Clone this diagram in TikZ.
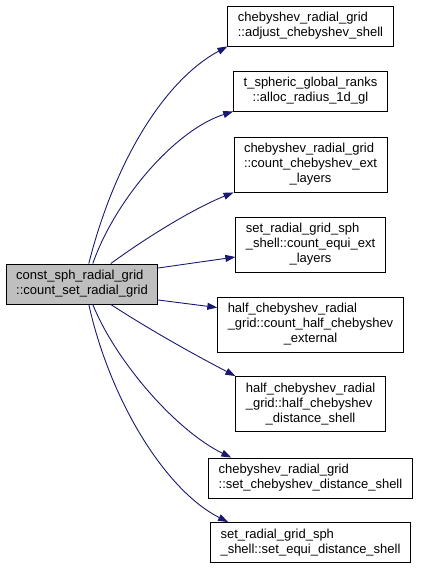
\documentclass[tikz,border=0pt]{standalone}
\usepackage{fontspec}
\setmainfont{Liberation Sans}
\usetikzlibrary{arrows.meta}
\definecolor{edgeblue}{HTML}{191970}
\definecolor{rootgray}{HTML}{BFBFBF}

\begin{document}
\begin{tikzpicture}[
  x=1pt, y=-1pt,
  font=\fontsize{13}{15}\selectfont,
  fnbox/.style={rectangle, draw=black, line width=0.9pt, fill=white, inner xsep=10pt, inner ysep=5pt},
  rootbox/.style={fnbox, fill=rootgray},
  calledge/.style={draw=edgeblue, line width=0.9pt, -{Triangle[length=10pt, width=7pt]}}
]
\useasboundingbox (0,0) rectangle (420,569);

\node[rootbox] (root) at (82, 284) {\begin{tabular}{@{}l@{}}const\_sph\_radial\_grid\\::count\_set\_radial\_grid\end{tabular}};
\node[fnbox] (adj) at (310.5, 26) {\begin{tabular}{@{}l@{}}chebyshev\_radial\_grid\\::adjust\_chebyshev\_shell\end{tabular}};
\node[fnbox] (alloc) at (310.5, 91) {\begin{tabular}{@{}c@{}}t\_spheric\_global\_ranks\\::alloc\_radius\_1d\_gl\end{tabular}};
\node[fnbox] (chext) at (310.5, 164.5) {\begin{tabular}{@{}l@{}}chebyshev\_radial\_grid\\::count\_chebyshev\_ext\\\multicolumn{1}{@{}c@{}}{\_layers}\end{tabular}};
\node[fnbox] (eqext) at (310.5, 244.5) {\begin{tabular}{@{}l@{}}set\_radial\_grid\_sph\\\_shell::count\_equi\_ext\\\multicolumn{1}{@{}c@{}}{\_layers}\end{tabular}};
\node[fnbox] (hcext) at (310.5, 324.5) {\begin{tabular}{@{}l@{}}half\_chebyshev\_radial\\\_grid::count\_half\_chebyshev\\\multicolumn{1}{@{}c@{}}{\_external}\end{tabular}};
\node[fnbox] (hcdist) at (310.5, 404) {\begin{tabular}{@{}l@{}}half\_chebyshev\_radial\\\_grid::half\_chebyshev\\\multicolumn{1}{@{}c@{}}{\_distance\_shell}\end{tabular}};
\node[fnbox] (chdist) at (310.5, 478) {\begin{tabular}{@{}l@{}}chebyshev\_radial\_grid\\::set\_chebyshev\_distance\_shell\end{tabular}};
\node[fnbox] (eqdist) at (310.5, 542.5) {\begin{tabular}{@{}l@{}}set\_radial\_grid\_sph\\\_shell::set\_equi\_distance\_shell\end{tabular}};

\draw[calledge] ([xshift=83pt]root.north west) .. controls (115,160) and (165,80) .. (adj.south west);
\draw[calledge] ([xshift=87pt]root.north west) .. controls (115,200) and (175,130) .. (alloc.south west);
\draw[calledge] ([xshift=105pt]root.north west) .. controls (150,235) and (195,208) .. (chext.south west);
\draw[calledge] ([yshift=16pt]root.east) -- ([yshift=-12.5pt]eqext.west);
\draw[calledge] ([yshift=-16pt]root.east) -- ([yshift=-11pt]hcext.north west);
\draw[calledge] ([xshift=105pt]root.south west) .. controls (150,330) and (195,355) .. (hcdist.north west);
\draw[calledge] ([xshift=87pt]root.south west) .. controls (115,360) and (175,430) .. ([xshift=23pt]chdist.north west);
\draw[calledge] ([xshift=83pt]root.south west) .. controls (110,400) and (165,490) .. ([xshift=18pt]eqdist.north west);

\end{tikzpicture}
\end{document}
